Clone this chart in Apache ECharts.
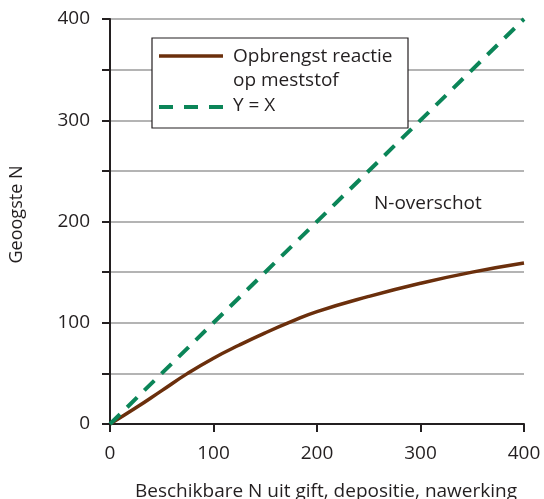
<!DOCTYPE html>
<html><head><meta charset="utf-8">
<script src="https://cdn.jsdelivr.net/npm/echarts@6/dist/echarts.min.js"></script>
<style>html,body{margin:0;padding:0;background:#fff}#c{width:544px;height:499px}</style>
</head><body><div id="c"></div>
<script>
var xValues = [0, 25, 50, 75, 100, 125, 150, 175, 200, 250, 300, 350, 400];
var yieldValues = [0, 16, 33, 50, 65, 78, 90, 101, 111, 126, 139, 150, 159];
var diagX = [0, 400];
var diagY = [0, 400];
var xTicks = [0, 100, 200, 300, 400];
var yTicks = [0, 100, 200, 300, 400];
var seriesNames = ['Opbrengst reactie op meststof', 'Y = X'];

var font = 'Open Sans';
var fs = 19;
var txt = '#231f20';
var brown = '#6b2f0c';
var green = '#0b8558';
var fontStr = fs + 'px "Open Sans"';

var chart = echarts.init(document.getElementById('c'));
chart.setOption({
  animation: false,
  grid: {left: 110, right: 20, top: 19, bottom: 75, containLabel: false, outerBoundsMode: 'none'},
  xAxis: {
    type: 'value', min: 0, max: 400, interval: 100,
    name: 'Beschikbare N uit gift, depositie, nawerking',
    nameLocation: 'middle', nameGap: 58,
    nameTextStyle: {fontFamily: font, fontSize: fs, color: txt, padding: [0, 0, 0, 18]},
    axisLine: {lineStyle: {color: '#231f20', width: 2}},
    axisTick: {show: true, length: 8, lineStyle: {color: '#231f20', width: 2}},
    axisLabel: {fontFamily: font, fontSize: fs, color: txt, margin: 20,
      formatter: function (v) { return xTicks.indexOf(v) >= 0 ? String(v) : ''; }},
    splitLine: {show: false}
  },
  yAxis: {
    type: 'value', min: 0, max: 400, interval: 50,
    name: 'Geoogste N', nameLocation: 'middle', nameGap: 84, nameRotate: 90,
    nameTextStyle: {fontFamily: font, fontSize: 18, color: txt, padding: [0, 0, 0, 14]},
    axisLine: {show: true, lineStyle: {color: '#231f20', width: 2}},
    axisTick: {show: true, length: 8, lineStyle: {color: '#231f20', width: 2}},
    axisLabel: {fontFamily: font, fontSize: fs, color: txt, margin: 20,
      formatter: function (v) { return yTicks.indexOf(v) >= 0 ? String(v) : ''; }},
    splitLine: {show: true, lineStyle: {color: '#b4b4b4', width: 2}}
  },
  series: [
    {
      name: seriesNames[0], type: 'line', smooth: true, showSymbol: false,
      data: xValues.map(function (x, i) { return [x, yieldValues[i]]; }),
      lineStyle: {color: brown, width: 3.5}, z: 3
    },
    {
      name: seriesNames[1], type: 'line', showSymbol: false,
      data: diagX.map(function (x, i) { return [x, diagY[i]]; }),
      lineStyle: {color: green, width: 4, type: [14, 10]}, z: 4
    }
  ],
  graphic: [
    {type: 'rect', x: 152, y: 38, z: 10,
      shape: {width: 256, height: 90},
      style: {fill: '#fff', stroke: '#231f20', lineWidth: 1.2}},
    {type: 'line', z: 11, shape: {x1: 159, y1: 56, x2: 223, y2: 56},
      style: {stroke: brown, lineWidth: 3.5}},
    {type: 'text', z: 11, x: 233, y: 57,
      style: {text: 'Opbrengst reactie', font: fontStr, fill: txt, verticalAlign: 'middle'}},
    {type: 'text', z: 11, x: 233, y: 81,
      style: {text: 'op meststof', font: fontStr, fill: txt, verticalAlign: 'middle'}},
    {type: 'line', z: 11, shape: {x1: 159, y1: 107, x2: 223, y2: 107},
      style: {stroke: green, lineWidth: 4, lineDash: [14, 11]}},
    {type: 'text', z: 11, x: 233, y: 106,
      style: {text: 'Y = X', font: fontStr, fill: txt, verticalAlign: 'middle'}},
    {type: 'text', z: 11, x: 374, y: 204,
      style: {text: 'N-overschot', font: fontStr, fill: txt, verticalAlign: 'middle'}}
  ]
});
</script>
</body></html>
